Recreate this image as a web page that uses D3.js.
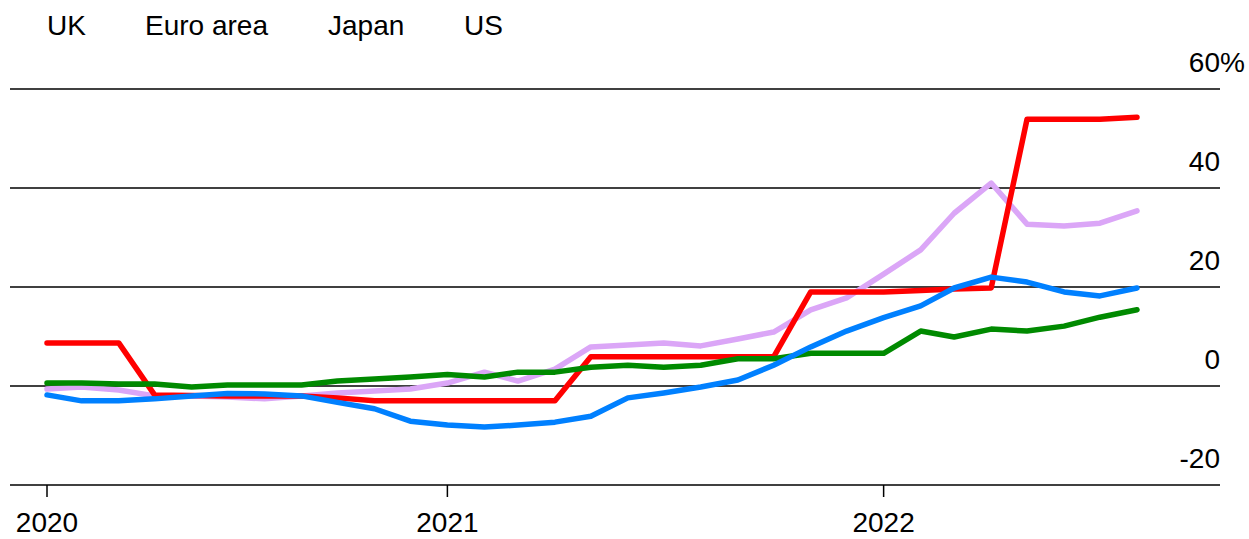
<!DOCTYPE html>
<html>
<head>
<meta charset="utf-8">
<script src="https://cdn.jsdelivr.net/npm/d3@7"></script>
<style>
  html, body { margin: 0; padding: 0; background: #fff; }
  svg { display: block; font-family: "Liberation Sans", Arial, Helvetica, sans-serif; }
</style>
</head>
<body>
<svg id="chart" width="1249" height="539"></svg>
<script>
// Monthly observations, Feb 2020 – Aug 2022
const months = [
  "2020-02","2020-03","2020-04","2020-05","2020-06","2020-07","2020-08","2020-09","2020-10","2020-11","2020-12",
  "2021-01","2021-02","2021-03","2021-04","2021-05","2021-06","2021-07","2021-08","2021-09","2021-10","2021-11","2021-12",
  "2022-01","2022-02","2022-03","2022-04","2022-05","2022-06","2022-07","2022-08"
];

// Year-on-year change, %
const ukValues    = [8.7, 8.7, 8.7, -1.8, -1.9, -2.0, -2.0, -2.0, -2.4, -3.0, -3.0, -3.0, -3.0, -3.0, -3.0, 5.9, 5.9, 5.9, 5.9, 5.9, 5.9, 19.0, 19.0, 19.0, 19.3, 19.6, 19.8, 53.9, 53.9, 53.9, 54.3];
const euroValues  = [0.6, 0.6, 0.4, 0.4, -0.2, 0.2, 0.2, 0.2, 1.0, 1.4, 1.8, 2.3, 1.8, 2.8, 2.8, 3.8, 4.2, 3.8, 4.2, 5.5, 5.5, 6.6, 6.6, 6.6, 11.1, 9.9, 11.5, 11.1, 12.1, 13.9, 15.4];
const japanValues = [-0.6, -0.2, -0.8, -2.0, -2.0, -2.2, -2.6, -2.0, -1.4, -1.0, -0.6, 0.6, 2.8, 1.0, 3.4, 7.9, 8.3, 8.7, 8.1, 9.5, 10.9, 15.4, 17.8, 22.6, 27.5, 34.9, 41.0, 32.7, 32.3, 32.9, 35.4];
const usValues    = [-1.8, -3.0, -3.0, -2.6, -2.0, -1.5, -1.6, -2.0, -3.3, -4.6, -7.1, -7.9, -8.3, -7.9, -7.3, -6.1, -2.4, -1.4, -0.2, 1.2, 4.2, 7.9, 11.1, 13.8, 16.2, 19.8, 22.0, 21.0, 19.0, 18.2, 19.8];

const legendLabels = ["UK", "Euro area", "Japan", "US"];
const yTicks = [-20, 0, 20, 40, 60];
const xTicks = ["2020-02", "2021-01", "2022-01"];
const xTickLabels = ["2020", "2021", "2022"];

const parse = d3.timeParse("%Y-%m");
const dates = months.map(parse);

const series = [
  { name: "Japan",     values: japanValues, color: "#dba6f7" },
  { name: "UK",        values: ukValues,    color: "#ff0000" },
  { name: "Euro area", values: euroValues,  color: "#008a00" },
  { name: "US",        values: usValues,    color: "#0080ff" }
];

const svg = d3.select("#chart");
const gridLeft = 10, gridRight = 1220;

const x = d3.scaleTime()
  .domain([dates[0], dates[dates.length - 1]])
  .range([47, 1137]);

const y = d3.scaleLinear()
  .domain([-20, 60])
  .range([485, 89]);

// Horizontal gridlines with labels sitting above them, right-aligned
const grid = svg.append("g");
grid.selectAll("line")
  .data(yTicks)
  .join("line")
  .attr("x1", gridLeft)
  .attr("x2", gridRight)
  .attr("y1", d => y(d))
  .attr("y2", d => y(d))
  .attr("stroke", "#000")
  .attr("stroke-width", 1.5);

grid.selectAll("text")
  .data(yTicks)
  .join("text")
  .attr("x", gridRight)
  .attr("y", d => y(d) - 17)
  .attr("text-anchor", "end")
  .attr("font-size", 28)
  .attr("fill", "#000")
  .text(d => d);

// Percent sign trails past the gridline end on the top label
grid.append("text")
  .attr("x", gridRight)
  .attr("y", y(60) - 17)
  .attr("text-anchor", "start")
  .attr("font-size", 28)
  .attr("fill", "#000")
  .text("%");

// Bottom axis ticks and year labels
const xAxis = svg.append("g");
xAxis.selectAll("line")
  .data(xTicks)
  .join("line")
  .attr("x1", d => x(parse(d)))
  .attr("x2", d => x(parse(d)))
  .attr("y1", y(-20))
  .attr("y2", y(-20) + 12)
  .attr("stroke", "#000")
  .attr("stroke-width", 1.5);

xAxis.selectAll("text")
  .data(xTicks)
  .join("text")
  .attr("x", d => x(parse(d)))
  .attr("y", 532)
  .attr("text-anchor", "middle")
  .attr("font-size", 28)
  .attr("fill", "#000")
  .text((d, i) => xTickLabels[i]);

// Series lines
const line = d3.line()
  .x((d, i) => x(dates[i]))
  .y(d => y(d));

svg.append("g")
  .selectAll("path")
  .data(series)
  .join("path")
  .attr("d", d => line(d.values))
  .attr("fill", "none")
  .attr("stroke", d => d.color)
  .attr("stroke-width", 5.5)
  .attr("stroke-linejoin", "round")
  .attr("stroke-linecap", "round");

// Legend
const legendX = [47, 145, 328, 464];
svg.append("g")
  .selectAll("text")
  .data(legendLabels)
  .join("text")
  .attr("x", (d, i) => legendX[i])
  .attr("y", 35)
  .attr("font-size", 28)
  .attr("fill", "#000")
  .text(d => d);
</script>
</body>
</html>
